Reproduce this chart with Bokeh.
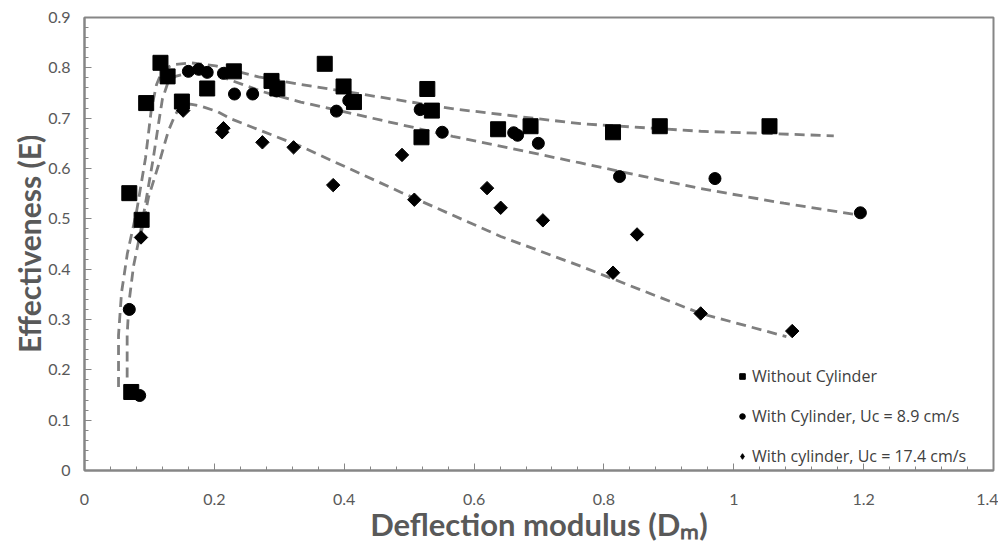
import numpy as np
from bokeh.plotting import figure
from bokeh.models import Range1d, FixedTicker, Legend, LegendItem, NumeralTickFormatter
from bokeh.embed import file_html
from bokeh.resources import INLINE

# ---- data ----
series_names = ["Without Cylinder", "With Cylinder, Uc = 8.9 cm/s", "With cylinder, Uc = 17.4 cm/s"]

sq_x = [0.117, 0.128, 0.095, 0.150, 0.069, 0.088, 0.072, 0.189, 0.230, 0.288, 0.297,
        0.370, 0.399, 0.415, 0.528, 0.535, 0.519, 0.637, 0.687, 0.814, 0.886, 1.055]
sq_y = [0.810, 0.783, 0.730, 0.733, 0.551, 0.498, 0.156, 0.759, 0.793, 0.774, 0.759,
        0.808, 0.763, 0.732, 0.758, 0.715, 0.662, 0.678, 0.684, 0.672, 0.684, 0.684]

ci_x = [0.069, 0.085, 0.160, 0.176, 0.189, 0.214, 0.231, 0.259, 0.296, 0.388, 0.407,
        0.517, 0.551, 0.661, 0.667, 0.699, 0.824, 0.971, 1.195]
ci_y = [0.320, 0.149, 0.793, 0.797, 0.791, 0.789, 0.748, 0.748, 0.754, 0.714, 0.735,
        0.717, 0.672, 0.671, 0.666, 0.650, 0.584, 0.580, 0.512]

di_x = [0.087, 0.152, 0.212, 0.214, 0.274, 0.322, 0.383, 0.489, 0.508, 0.620, 0.641,
        0.706, 0.814, 0.851, 0.949, 1.090]
di_y = [0.463, 0.715, 0.672, 0.680, 0.652, 0.642, 0.567, 0.627, 0.538, 0.561, 0.522,
        0.497, 0.393, 0.469, 0.312, 0.277]

# dashed trend curves
t1_x = [0.0524, 0.0524, 0.057, 0.066, 0.080, 0.094, 0.103, 0.111, 0.120, 0.136, 0.163,
        0.202, 0.268, 0.333, 0.571, 0.764, 0.949, 1.154]
t1_y = [0.166, 0.269, 0.353, 0.431, 0.513, 0.621, 0.718, 0.767, 0.795, 0.806, 0.810,
        0.804, 0.782, 0.767, 0.718, 0.689, 0.674, 0.665]

t2_x = [0.0657, 0.0657, 0.0685, 0.0755, 0.0862, 0.097, 0.106, 0.114, 0.120, 0.128, 0.140,
        0.163, 0.209, 0.276, 0.333, 0.567, 0.764, 0.949, 1.077, 1.190]
t2_y = [0.185, 0.269, 0.334, 0.406, 0.474, 0.553, 0.621, 0.689, 0.738, 0.769, 0.783,
        0.791, 0.783, 0.752, 0.732, 0.664, 0.611, 0.560, 0.531, 0.508]

t3_x = [0.0862, 0.0986, 0.114, 0.129, 0.139, 0.148, 0.163, 0.179, 0.205, 0.225, 0.333,
        0.487, 0.641, 0.764, 0.949, 1.081]
t3_y = [0.465, 0.543, 0.607, 0.674, 0.705, 0.724, 0.728, 0.724, 0.713, 0.699, 0.644,
        0.553, 0.465, 0.406, 0.312, 0.266]

x_ticks = [0, 0.2, 0.4, 0.6, 0.8, 1, 1.2, 1.4]
x_tick_labels = ["0", "0.2", "0.4", "0.6", "0.8", "1", "1.2", "1.4"]
y_ticks = [0, 0.1, 0.2, 0.3, 0.4, 0.5, 0.6, 0.7, 0.8, 0.9]
y_tick_labels = ["0", "0.1", "0.2", "0.3", "0.4", "0.5", "0.6", "0.7", "0.8", "0.9"]

x_title = "Deflection modulus (D\u2098)"
y_title = "Effectiveness (E)"

# ---- styling ----
GREY_TXT = "#595959"
GREY_AX = "#868686"
FONT = "Lato"

p = figure(width=998, height=545, output_backend="svg", toolbar_location=None,
           x_range=Range1d(0, 1.4), y_range=Range1d(0, 0.9),
           min_border_left=84, min_border_right=5, min_border_top=17, min_border_bottom=67)
p.background_fill_color = "white"
p.border_fill_color = "white"
p.outline_line_color = GREY_AX
p.outline_line_width = 2
p.xgrid.visible = False
p.ygrid.visible = False

p.xaxis.ticker = FixedTicker(ticks=x_ticks, minor_ticks=list(np.round(np.arange(0, 1.4001, 0.04), 4)))
p.yaxis.ticker = FixedTicker(ticks=y_ticks, minor_ticks=list(np.round(np.arange(0, 0.9001, 0.02), 4)))
p.xaxis.major_label_overrides = {t: s for t, s in zip(x_ticks, x_tick_labels)}
p.yaxis.major_label_overrides = {t: s for t, s in zip(y_ticks, y_tick_labels)}
p.xaxis.formatter = NumeralTickFormatter(format="0.[0]")
p.yaxis.formatter = NumeralTickFormatter(format="0.[0]")

for ax in (p.xaxis, p.yaxis):
    ax.axis_line_color = GREY_AX
    ax.axis_line_width = 2
    ax.major_tick_line_color = GREY_AX
    ax.minor_tick_line_color = GREY_AX
    ax.major_tick_in = 7
    ax.major_tick_out = 0
    ax.minor_tick_in = 4
    ax.minor_tick_out = 0
    ax.major_label_text_font = FONT
    ax.major_label_text_font_size = "16px"
    ax.major_label_text_color = GREY_TXT
    ax.axis_label_text_font = FONT
    ax.axis_label_text_font_style = "bold"
    ax.axis_label_text_color = GREY_TXT

p.yaxis.major_label_standoff = 14
p.xaxis.major_label_standoff = 23

p.yaxis.axis_label = y_title
p.yaxis.axis_label_text_font_size = "30px"
p.yaxis.axis_label_standoff = -2

p.xaxis.axis_label = x_title
p.xaxis.axis_label_text_font_size = "31px"
p.xaxis.axis_label_standoff = -3

# trend lines
for tx, ty in ((t1_x, t1_y), (t2_x, t2_y), (t3_x, t3_y)):
    p.line(tx, ty, line_color="#7f7f7f", line_width=2.8, line_dash="10 6")

r1 = p.scatter(sq_x, sq_y, marker="square", size=15, fill_color="black", line_color="black")
r2 = p.scatter(ci_x, ci_y, marker="circle", size=12, fill_color="black", line_color="black")
r3 = p.scatter(di_x, di_y, marker="square", angle=np.pi / 4, size=9.5,
               fill_color="black", line_color="black")
# legend-only diamond renderer, drawn on the first diamond point (hidden under it)
r3_leg = p.scatter(x=di_x[:1], y=di_y[:1], marker="diamond", size=11,
                   fill_color="black", line_color="black")

legend = Legend(items=[LegendItem(label=series_names[0], renderers=[r1]),
                       LegendItem(label=series_names[1], renderers=[r2]),
                       LegendItem(label=series_names[2], renderers=[r3_leg])],
                location=(651, 3), orientation="vertical",
                glyph_width=14, glyph_height=20, label_height=20, spacing=18,
                label_standoff=3, padding=0, margin=0,
                border_line_color=None, background_fill_alpha=0,
                label_text_font="Open Sans", label_text_font_size="16px",
                label_text_color="#404040")
p.add_layout(legend)

open("out.html", "w").write(file_html(p, INLINE))
